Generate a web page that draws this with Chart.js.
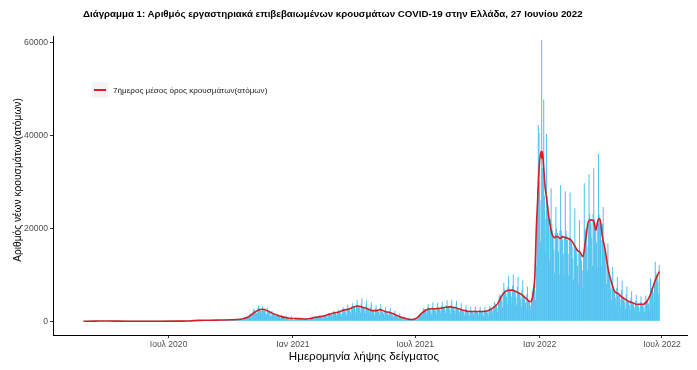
<!DOCTYPE html>
<html>
<head>
<meta charset="utf-8">
<script src="https://cdn.jsdelivr.net/npm/chart.js@4.4.1/dist/chart.umd.min.js"></script>
<style>
  html, body { margin:0; padding:0; background:#fff; }
  #wrap { position:relative; width:697px; height:370px; overflow:hidden; font-family:"Liberation Sans", Arial, sans-serif; }
  canvas { position:absolute; left:0; top:0; }
  .txt { position:absolute; white-space:nowrap; color:#000; }
  #title { left:83px; top:8px; font-weight:bold; font-size:9.72px; }
  #xtitle { left:364px; top:355px; font-size:11.6px; transform:translate(-50%,-50%); }
  #legkey { position:absolute; left:92px; top:82px; width:16px; height:16px; background:#f4f4f4; }
  #legkey div { position:absolute; left:2px; top:7px; width:12px; height:2px; background:#d41f26; }
  #legtxt { left:113px; top:90px; font-size:8.1px; color:#1a1a1a; transform:translateY(-50%); }
</style>
</head>
<body>
<div id="wrap">
  <canvas id="c" width="697" height="370"></canvas>
  <div class="txt" id="title">Διάγραμμα 1: Αριθμός εργαστηριακά επιβεβαιωμένων κρουσμάτων COVID-19 στην Ελλάδα, 27 Ιουνίου 2022</div>
  <div class="txt" id="xtitle">Ημερομηνία λήψης δείγματος</div>
  <div id="legkey"><div></div></div>
  <div class="txt" id="legtxt">7ήμερος μέσος όρος κρουσμάτων(ατόμων)</div>
</div>
<script>
// ---------------- DATA ----------------
const startDate = '2020-02-26';           // first day of daily series
// daily confirmed cases, one row per week (Wed..Tue)
const dailyCases = [
1,0,0,4,0,0,1,
2,22,14,20,6,16,11,
9,18,39,41,38,31,60,
56,46,31,45,72,73,71,
48,71,74,95,64,89,102,
129,62,54,43,20,62,81,
60,40,15,28,20,22,25,
30,22,35,20,12,18,20,
15,60,15,7,14,10,12,
18,15,14,8,5,2,12,
8,10,16,5,9,3,15,
9,7,10,11,5,4,13,
7,2,3,16,4,2,6,
5,29,2,2,1,9,10,
10,12,4,5,3,13,15,
7,5,15,4,4,8,19,
16,7,8,2,5,12,14,
27,10,26,16,10,22,10,
12,12,22,20,8,30,15,
25,30,33,44,18,26,22,
26,22,19,31,18,40,21,
25,37,32,37,40,33,27,
57,43,78,110,75,109,45,
149,121,153,203,126,142,262,
178,204,182,230,217,150,269,
209,235,244,284,136,196,293,
204,236,248,173,141,166,211,
193,186,169,267,141,144,234,
294,317,197,294,139,229,331,
343,300,315,353,191,258,277,
323,373,319,310,180,243,342,
357,411,327,333,204,263,457,
430,462,466,392,244,315,512,
508,459,461,382,258,367,634,
865,882,841,935,694,710,1144,
1211,1547,1690,1259,840,1506,2166,
2646,2448,2135,1914,1712,1789,2752,
3316,2835,2750,2224,1698,2198,3209,
2581,2499,2311,2198,1498,1498,2931,
2152,2014,1871,1595,1044,1194,2199,
1689,1648,1495,1390,1105,1008,1676,
1335,1260,1170,1006,591,791,1382,
1176,1100,948,859,400,533,1193,
865,917,652,588,376,330,875,
1063,633,302,262,343,656,812,
624,633,618,458,391,594,685,
586,566,520,463,316,464,662,
641,564,521,450,285,465,727,
766,847,704,606,383,642,920,
1014,1138,1079,896,637,880,1318,
1137,1211,1141,932,528,851,1363,
1250,1224,1199,1079,699,1243,1806,
1680,1532,1534,1332,775,1393,2076,
2150,1990,1680,1470,1040,2020,2520,
2150,2050,1950,1650,1120,2350,3080,
2520,2400,2280,1920,1320,2760,3600,
2730,2600,2470,2080,1430,2990,3900,
3260,3100,2950,2480,1700,3560,4650,
3470,3300,3140,2640,1820,3800,4950,
3150,3000,2850,2400,1650,3450,4500,
2840,2700,2570,2160,1490,3100,4050,
2420,2300,2190,1840,1270,2650,3450,
2620,2500,2380,2000,1380,2880,3750,
2200,2100,2000,1680,1160,2420,3150,
2000,1900,1800,1520,1050,2190,2850,
1580,1500,1430,1200,830,1730,2250,
1160,1100,1050,880,600,1260,1650,
740,700,670,560,390,800,1050,
530,500,480,400,280,580,750,
420,400,380,320,220,460,600,
540,560,600,500,330,800,1100,
1300,1550,1700,1550,1100,2200,2800,
2700,2650,2500,2100,1400,2900,3700,
2840,2700,2570,2160,1490,3100,4050,
2800,2750,2550,2200,1450,3050,4000,
2940,2800,2660,2240,1540,3220,4200,
3150,3000,2850,2400,1650,3450,4500,
3260,3100,2950,2480,1700,3560,4650,
3050,2900,2760,2320,1600,3340,4350,
2730,2600,2470,2080,1430,2990,3900,
2420,2300,2190,1840,1270,2650,3450,
2200,2100,2000,1680,1160,2420,3150,
2210,2080,1990,1700,1150,2400,3170,
2190,2120,2010,1660,1170,2430,3120,
2200,2100,2000,1680,1160,2420,3150,
2310,2200,2090,1760,1210,2530,3300,
2940,2800,2660,2240,1540,3220,4200,
3780,3600,3420,2880,1980,4140,5400,
5780,5500,5230,4400,3030,6330,8250,
6830,6500,6180,5200,3580,7480,9750,
7040,6700,6370,5360,3690,7710,10050,
6720,6400,6080,5120,3520,7360,9600,
6200,5900,5610,4720,3250,6790,8850,
5250,5000,4750,4000,2750,5750,7500,
4520,4300,4090,3440,2370,4950,6450,
7000,7700,8400,6500,4500,12000,21600,
28800,42200,40500,30000,17000,26000,60500,
33000,31000,47700,27000,15000,22000,40300,
27000,25000,23000,20000,13000,22000,28600,
21000,19500,18500,15500,10500,19000,24600,
20000,19000,18000,15000,10000,19500,29300,
19500,18500,17500,14500,10000,18000,27900,
19500,18500,17500,14500,9800,18000,27700,
18000,17000,16000,13500,9000,16500,24300,
16000,15500,14500,12000,8000,15000,21800,
14500,14000,13000,11000,7200,14000,29700,
20000,19500,18500,16000,11000,21000,31600,
23000,22000,21000,18000,12000,23000,32900,
22000,21000,20000,17000,11500,22000,36100,
23000,22000,21000,17500,12000,21000,24600,
17000,16000,14500,12000,8000,13000,16800,
11000,10000,9000,7000,4500,7500,11700,
6800,6500,6100,5100,3500,7200,9500,
6200,5900,5600,4700,3200,6700,8700,
5300,5000,4750,4000,2750,5750,7500,
4520,4300,4090,3440,2370,4950,6450,
4000,3800,3610,3040,2090,4370,5700,
3780,3600,3420,2880,1980,4140,5400,
3890,3700,3520,2960,2040,4260,5550,
4200,4400,4500,3800,2600,5600,9200,
7000,7200,7300,6200,4200,8500,12800,
10500,10000,9800,8500,5800,12100
];

// 7-day average
const avgDates = [
'2020-02-26','2020-03-15','2020-04-01','2020-05-01','2020-06-15','2020-07-15','2020-08-01','2020-08-15',
'2020-09-01','2020-09-15','2020-10-01','2020-10-15','2020-10-22','2020-10-29','2020-11-05','2020-11-12',
'2020-11-18','2020-11-25','2020-12-02','2020-12-09','2020-12-16','2020-12-23','2020-12-30','2021-01-10',
'2021-01-20','2021-01-27','2021-02-03','2021-02-10','2021-02-17','2021-02-24','2021-03-03','2021-03-10',
'2021-03-17','2021-03-24','2021-03-31','2021-04-07','2021-04-14','2021-04-21','2021-04-28','2021-05-05',
'2021-05-10','2021-05-17','2021-05-24','2021-05-31','2021-06-07','2021-06-14','2021-06-21','2021-06-27',
'2021-07-04','2021-07-11','2021-07-18','2021-07-25','2021-08-01','2021-08-08','2021-08-15','2021-08-22',
'2021-08-29','2021-09-05','2021-09-12','2021-09-19','2021-09-26','2021-10-03','2021-10-10','2021-10-17',
'2021-10-24','2021-10-31','2021-11-07','2021-11-14','2021-11-21','2021-11-28','2021-12-05','2021-12-12',
'2021-12-18','2021-12-22','2021-12-25','2021-12-27','2021-12-29','2021-12-31','2022-01-03','2022-01-04',
'2022-01-05','2022-01-07','2022-01-09','2022-01-11','2022-01-15','2022-01-19','2022-01-23','2022-01-27',
'2022-01-31','2022-02-04','2022-02-08','2022-02-12','2022-02-16','2022-02-21','2022-02-26','2022-03-01',
'2022-03-06','2022-03-10','2022-03-14','2022-03-18','2022-03-22','2022-03-25','2022-03-28','2022-03-31',
'2022-04-04','2022-04-08','2022-04-12','2022-04-15','2022-04-19','2022-04-22','2022-04-25','2022-04-27',
'2022-05-02','2022-05-08','2022-05-14','2022-05-20','2022-05-24','2022-06-03','2022-06-07','2022-06-10',
'2022-06-14','2022-06-17','2022-06-21','2022-06-27'
];
const avgValues = [
0,40,70,15,10,30,70,200,
220,270,320,450,650,1100,1900,2500,
2600,2200,1700,1300,950,750,600,580,
500,600,850,1000,1200,1500,1800,2000,
2400,2600,3000,3300,3000,2700,2300,2300,
2500,2100,1900,1500,1050,700,450,380,
800,1800,2500,2700,2700,2800,3000,3100,
2900,2600,2300,2100,2100,2100,2100,2300,
2900,3800,5700,6600,6700,6300,5800,4900,
4200,5500,10000,19600,26000,32500,36500,35000,
36500,33000,29000,26800,22000,18900,18000,18300,
17800,18200,18000,17800,17500,16500,15200,15000,
13900,17500,21400,21800,21500,19600,21600,22100,
18000,15300,11500,9600,7500,6400,6100,6000,
5300,4700,4200,3900,3650,3650,4000,4600,
5800,7100,8800,10700
];

const tickDates  = ['2020-07-01','2021-01-01','2021-07-01','2022-01-01','2022-07-01'];
const tickLabels = ['Ιουλ 2020','Ιαν 2021','Ιουλ 2021','Ιαν 2022','Ιουλ 2022'];
const yTicks     = [0, 20000, 40000, 60000];
const xRange     = ['2020-01-12','2022-08-07'];
const yRange     = [-2950, 61350];
const yTitle     = 'Αριθμός νέων κρουσμάτων(ατόμων)';

// ---------------- BUILD ----------------
const EPOCH = Date.UTC(2020,0,1);
function dayNum(s){ const p = s.split('-').map(Number); return (Date.UTC(p[0],p[1]-1,p[2]) - EPOCH)/864e5; }
const d0 = dayNum(startDate);
const barData = dailyCases.map((v,i)=>({x:d0+i, y:v}));
const lineData = avgDates.map((d,i)=>({x:dayNum(d), y:avgValues[i]}));
const tickVals = tickDates.map(dayNum);

const tickFont = {family:'"Liberation Sans", Arial, sans-serif', size:8.6};

const yTitlePlugin = {
  id:'yTitle',
  afterDraw(chart){
    const ctx = chart.ctx;
    ctx.save();
    ctx.translate(18, 180);
    ctx.rotate(-Math.PI/2);
    ctx.font = '10.2px "Liberation Sans", Arial, sans-serif';
    ctx.fillStyle = '#000';
    ctx.textAlign = 'center';
    ctx.textBaseline = 'middle';
    ctx.fillText(yTitle, 0, 0);
    ctx.restore();
  }
};

new Chart(document.getElementById('c'), {
  type:'bar',
  data:{
    datasets:[
      {type:'line', data:lineData, borderColor:'#d41f26', borderWidth:1.6, pointRadius:0,
       cubicInterpolationMode:'monotone', fill:false, order:0},
      {type:'bar', data:barData, backgroundColor:'#4fc2f0', borderWidth:0,
       barPercentage:1.5, categoryPercentage:1.0, order:1}
    ]
  },
  options:{
    responsive:false, animation:false,
    layout:{padding:{left:0, right:10, top:36, bottom:0}},
    plugins:{legend:{display:false}, tooltip:{enabled:false}, title:{display:false}},
    scales:{
      x:{
        type:'linear', min:dayNum(xRange[0]), max:dayNum(xRange[1]), offset:false,
        grid:{offset:false, drawOnChartArea:false, drawTicks:true, tickLength:3, color:'#333'},
        border:{display:true, color:'#000', width:1},
        ticks:{font:tickFont, color:'#4d4d4d', padding:1, autoSkip:false, maxRotation:0,
               callback:(v)=>{const i=tickVals.indexOf(v); return i>=0?tickLabels[i]:'';}},
        afterBuildTicks:(s)=>{ s.ticks = tickVals.map(v=>({value:v})); },
        afterFit:(s)=>{ s.height = 35; }
      },
      y:{
        type:'linear', min:yRange[0], max:yRange[1],
        grid:{offset:false, drawOnChartArea:false, drawTicks:true, tickLength:3, color:'#333'},
        border:{display:true, color:'#000', width:1},
        ticks:{font:tickFont, color:'#4d4d4d', padding:2, callback:(v)=>String(v)},
        afterBuildTicks:(s)=>{ s.ticks = yTicks.map(v=>({value:v})); },
        afterFit:(s)=>{ s.width = 53; }
      }
    }
  },
  plugins:[yTitlePlugin]
});
</script>
</body>
</html>
